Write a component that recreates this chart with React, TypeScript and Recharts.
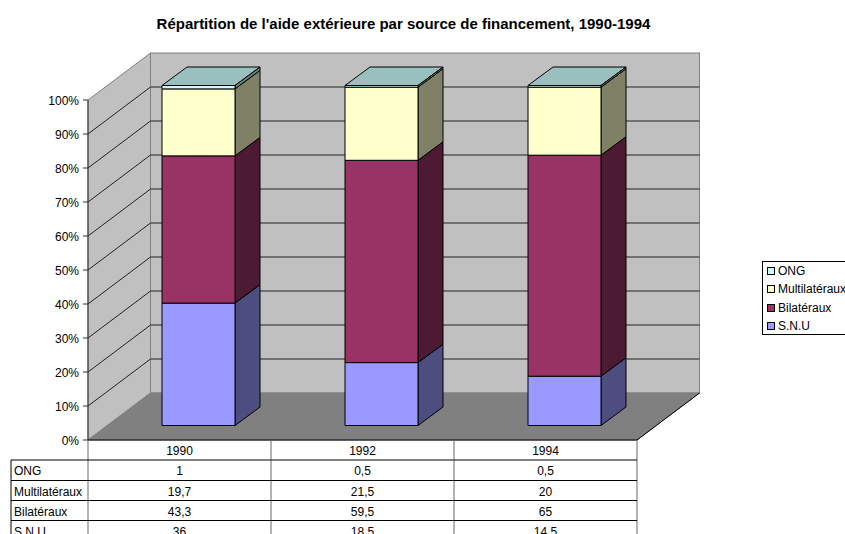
import { Bar, BarChart, Legend, ReferenceArea, ReferenceLine, XAxis, YAxis } from "recharts";

const years = ["1990", "1992", "1994"];
const ong = [1, 0.5, 0.5];
const multilateraux = [19.7, 21.5, 20];
const bilateraux = [43.3, 59.5, 65];
const snu = [36, 18.5, 14.5];
const percentTicks = [0, 10, 20, 30, 40, 50, 60, 70, 80, 90, 100];
const innerGridTicks = [10, 20, 30, 40, 50, 60, 70, 80, 90];
const legendOrder = ["ONG", "Multilatéraux", "Bilatéraux", "S.N.U"];

const tableRows = [
  { label: "ONG", values: ong },
  { label: "Multilatéraux", values: multilateraux },
  { label: "Bilatéraux", values: bilateraux },
  { label: "S.N.U", values: snu },
];

const data = years.map((year, i) => ({
  year,
  snu: snu[i],
  bilateraux: bilateraux[i],
  multilateraux: multilateraux[i],
  ong: ong[i],
}));

const FONT = "'Liberation Sans', Arial, sans-serif";

// oblique projection of the old Excel 3D look
const WALL_DX = 62.5;
const WALL_DY = -47;
const BAR_DX = 19;
const BAR_DY = -14.5;
const DEPTH_DX = 25;
const DEPTH_DY = -18.5;

const poly = (pts: number[][]) => pts.map((p) => p.join(",")).join(" ");

function barShape(side: string, top: string) {
  return (props: any) => {
    const x = props.x + BAR_DX;
    const y = props.y + BAR_DY;
    const { width, height, fill } = props;
    const r = x + width;
    const b = y + height;
    return (
      <g stroke="#000" strokeWidth={1} strokeLinejoin="round">
        <polygon
          fill={top}
          points={poly([[x, y], [r, y], [r + DEPTH_DX, y + DEPTH_DY], [x + DEPTH_DX, y + DEPTH_DY]])}
        />
        <polygon
          fill={side}
          points={poly([[r, y], [r + DEPTH_DX, y + DEPTH_DY], [r + DEPTH_DX, b + DEPTH_DY], [r, b]])}
        />
        <rect x={x} y={y} width={width} height={height} fill={fill} />
      </g>
    );
  };
}

function Walls(props: any) {
  const { x, y, width, height } = props;
  const r = x + width;
  const b = y + height;
  return (
    <g stroke="#808080" strokeWidth={1}>
      <polygon
        fill="#c0c0c0"
        points={poly([[x, y], [x + WALL_DX, y + WALL_DY], [x + WALL_DX, b + WALL_DY], [x, b]])}
      />
      <rect x={x + WALL_DX} y={y + WALL_DY} width={width} height={height} fill="#c0c0c0" />
      <polygon
        fill="#808080"
        points={poly([[x, b], [x + WALL_DX, b + WALL_DY], [r + WALL_DX, b + WALL_DY], [r, b]])}
      />
      <line x1={r} y1={b} x2={r + WALL_DX} y2={b + WALL_DY} stroke="#000" />
    </g>
  );
}

function WallGridLine(props: any) {
  const { x1, y1, x2 } = props;
  return (
    <polyline
      fill="none"
      stroke="#222"
      strokeWidth={1}
      points={poly([[x1, y1], [x1 + WALL_DX, y1 + WALL_DY], [x2 + WALL_DX, y1 + WALL_DY]])}
    />
  );
}

const BAND = 183;
const ROW_Y = [460, 480.5, 500.5, 520.5];
const TABLE_LEFT = 11;

function TableColumn(props: any) {
  const { x, y, payload, index } = props;
  const top = y;
  const left = x - BAND / 2;
  const right = x + BAND / 2;
  const textProps = { fontFamily: FONT, fontSize: 12, fill: "#000" };
  return (
    <g>
      <line x1={left} y1={top} x2={left} y2={534} stroke="#666" />
      {index === years.length - 1 && <line x1={right} y1={top} x2={right} y2={534} stroke="#666" />}
      <text x={x} y={top + 14.5} textAnchor="middle" {...textProps}>
        {payload.value}
      </text>
      {tableRows.map((row, r) => (
        <g key={row.label}>
          <line x1={index === 0 ? TABLE_LEFT : left} y1={ROW_Y[r]} x2={right} y2={ROW_Y[r]} stroke="#000" />
          {index === 0 && (
            <text x={TABLE_LEFT + 3} y={ROW_Y[r] + 15} {...textProps}>
              {row.label}
            </text>
          )}
          <text x={x} y={ROW_Y[r] + 15} textAnchor="middle" {...textProps}>
            {String(row.values[index]).replace(".", ",")}
          </text>
        </g>
      ))}
      {index === 0 && <line x1={TABLE_LEFT} y1={ROW_Y[0]} x2={TABLE_LEFT} y2={534} stroke="#000" />}
    </g>
  );
}

function LegendBox({ payload }: any) {
  const items = legendOrder.map((name) => (payload ?? []).find((p: any) => p.value === name)).filter(Boolean);
  return (
    <div
      style={{
        position: "absolute",
        left: 0,
        top: 0,
        width: 90,
        height: 72,
        border: "1px solid #000",
        background: "#fff",
        fontFamily: FONT,
        fontSize: 12,
        color: "#000",
      }}
    >
      {items.map((item: any) => (
        <div key={item.value} style={{ display: "flex", alignItems: "center", height: 18.3, paddingLeft: 4, whiteSpace: "nowrap" }}>
          <span
            style={{
              display: "inline-block",
              width: 6,
              height: 6,
              border: "1px solid #000",
              background: item.color,
              marginRight: 3,
            }}
          />
          {item.value}
        </div>
      ))}
    </div>
  );
}

export default function App() {
  return (
    <div style={{ position: "absolute", left: 0, top: 0, width: 845, height: 534, overflow: "hidden", background: "#fff" }}>
      <div
        style={{
          position: "absolute",
          left: 0,
          top: 15,
          width: 807,
          textAlign: "center",
          fontFamily: FONT,
          fontSize: 15,
          fontWeight: "bold",
          color: "#000",
        }}
      >
        Répartition de l'aide extérieure par source de financement, 1990-1994
      </div>
      <BarChart
        width={845}
        height={534}
        data={data}
        margin={{ top: 100, right: 208, bottom: 0, left: 0 }}
        barCategoryGap={0}
      >
        <XAxis
          dataKey="year"
          height={94}
          interval={0}
          tickLine={false}
          axisLine={{ stroke: "#000" }}
          tickSize={0}
          tickMargin={0}
          tick={TableColumn}
        />
        <YAxis
          width={88}
          domain={[0, 100]}
          ticks={percentTicks}
          interval={0}
          tickSize={5}
          tickMargin={4}
          tickFormatter={(v) => `${v}%`}
          tick={{ fontFamily: FONT, fontSize: 12, fill: "#000", dy: 1 }}
          axisLine={{ stroke: "#333" }}
          tickLine={{ stroke: "#333" }}
        />
        <ReferenceArea y1={0} y2={100} shape={Walls} />
        {innerGridTicks.map((t) => (
          <ReferenceLine key={t} y={t} shape={WallGridLine} zIndex={150} />
        ))}
        <Legend
          content={LegendBox}
          layout="vertical"
          wrapperStyle={{ left: 762, top: 261, width: 0, height: 0, bottom: "auto", right: "auto" }}
        />
        <Bar dataKey="snu" name="S.N.U" stackId="a" barSize={73} fill="#9999ff" shape={barShape("#4d4d80", "#7373bf")} isAnimationActive={false} />
        <Bar dataKey="bilateraux" name="Bilatéraux" stackId="a" barSize={73} fill="#993366" shape={barShape("#4d1a33", "#73264d")} isAnimationActive={false} />
        <Bar dataKey="multilateraux" name="Multilatéraux" stackId="a" barSize={73} fill="#ffffcc" shape={barShape("#808066", "#bfbf99")} isAnimationActive={false} />
        <Bar dataKey="ong" name="ONG" stackId="a" barSize={73} fill="#ccffff" shape={barShape("#668080", "#99bfbf")} isAnimationActive={false} />
      </BarChart>
    </div>
  );
}
